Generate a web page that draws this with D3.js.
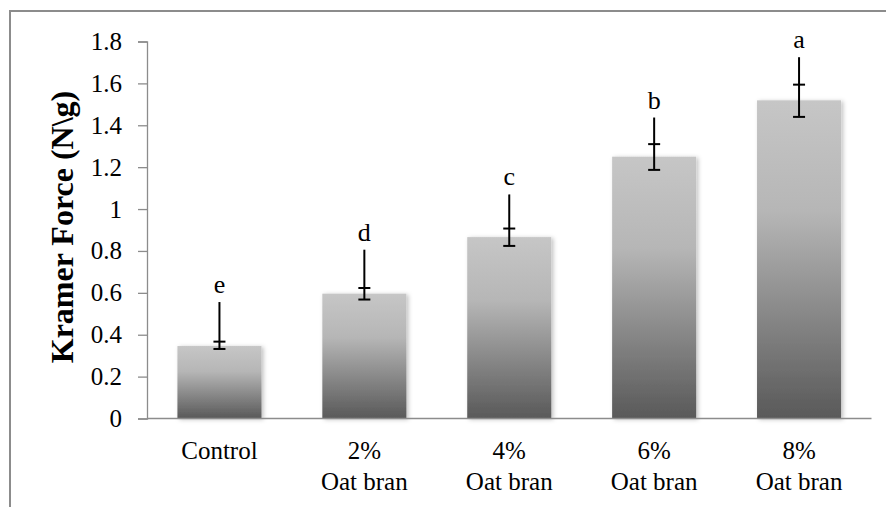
<!DOCTYPE html>
<html>
<head>
<meta charset="utf-8">
<script src="https://d3js.org/d3.v7.min.js"></script>
<style>
    body { margin: 0; background: #fff; }
</style>
</head>
<body>
<div id="chart"></div>
<script>
// values
var categories = [["Control"], ["2%", "Oat bran"], ["4%", "Oat bran"], ["6%", "Oat bran"], ["8%", "Oat bran"]];
var force = [0.346, 0.596, 0.866, 1.25, 1.519];
var errTop = [0.556, 0.806, 1.07, 1.437, 1.725];
var errMid = [0.367, 0.623, 0.907, 1.31, 1.594];
var errLow = [0.332, 0.568, 0.824, 1.187, 1.44];
var letters = ["e", "d", "c", "b", "a"];
var yTicks = [0, 0.2, 0.4, 0.6, 0.8, 1, 1.2, 1.4, 1.6, 1.8];

var width = 886,
    height = 507;
var serif = "'Liberation Serif', 'Noto Serif', 'DejaVu Serif', serif";

var svg = d3.select("#chart")
    .append("svg")
    .attr("xmlns", "http://www.w3.org/2000/svg")
    .attr("width", width)
    .attr("height", height)
    .style("font-family", serif);

var defs = svg.append("defs");
var grad = defs.append("linearGradient")
    .attr("id", "barGrad")
    .attr("x1", 0).attr("y1", 0).attr("x2", 0).attr("y2", 1);
grad.append("stop").attr("offset", "0%").attr("stop-color", "#c6c6c6");
grad.append("stop").attr("offset", "35%").attr("stop-color", "#b6b6b6");
grad.append("stop").attr("offset", "100%").attr("stop-color", "#595959");

defs.append("filter")
    .attr("id", "shadow")
    .attr("x", "-10%").attr("y", "-10%").attr("width", "130%").attr("height", "130%")
    .append("feDropShadow")
    .attr("dx", 2).attr("dy", 1)
    .attr("stdDeviation", 2)
    .attr("flood-color", "#000")
    .attr("flood-opacity", 0.25);

// outer frame (left + top only visible)
svg.append("path")
    .attr("d", "M10," + height + "V11H" + width)
    .attr("fill", "none")
    .attr("stroke", "#8c8c8c")
    .attr("stroke-width", 2);

var x = d3.scaleBand()
    .domain(d3.range(categories.length))
    .range([147, 871.5])
    .paddingInner(0.42)
    .paddingOuter(0.21);

var y = d3.scaleLinear()
    .domain([0, 1.8])
    .range([418.5, 41.5]);

// y axis
var yAxis = svg.append("g")
    .attr("transform", "translate(147,0)")
    .call(d3.axisLeft(y).tickValues(yTicks).tickSize(9).tickPadding(16)
        .tickFormat(function (d) { return d3.format("")(d) }));
yAxis.attr("font-family", null).attr("font-size", null);
yAxis.select(".domain").attr("stroke", "#8c8c8c").attr("stroke-width", 1.3);
yAxis.selectAll(".tick line").attr("stroke", "#8c8c8c").attr("stroke-width", 1.3);
yAxis.selectAll(".tick text")
    .attr("fill", "#000")
    .style("font-family", serif)
    .style("font-size", "25px");

// bars
svg.selectAll(".bar")
    .data(force)
    .enter()
    .append("rect")
    .attr("class", "bar")
    .attr("x", function (d, i) { return x(i) })
    .attr("y", function (d) { return y(d) })
    .attr("width", x.bandwidth())
    .attr("height", function (d) { return y(0) - y(d) })
    .attr("fill", "url(#barGrad)")
    .attr("filter", "url(#shadow)");

// x axis line
svg.append("line")
    .attr("x1", 147).attr("x2", 871.5)
    .attr("y1", y(0)).attr("y2", y(0))
    .attr("stroke", "#8c8c8c")
    .attr("stroke-width", 1.5);

// error bars
var eb = svg.selectAll(".err")
    .data(force)
    .enter()
    .append("g")
    .attr("class", "err")
    .attr("transform", function (d, i) { return "translate(" + (x(i) + x.bandwidth() / 2) + ",0)" })
    .attr("stroke", "#000")
    .attr("stroke-width", 2);

eb.append("line")
    .attr("y1", function (d, i) { return y(errTop[i]) })
    .attr("y2", function (d, i) { return y(errLow[i]) });
eb.append("line")
    .attr("x1", -6).attr("x2", 6)
    .attr("y1", function (d, i) { return y(errMid[i]) })
    .attr("y2", function (d, i) { return y(errMid[i]) });
eb.append("line")
    .attr("x1", -6).attr("x2", 6)
    .attr("y1", function (d, i) { return y(errLow[i]) })
    .attr("y2", function (d, i) { return y(errLow[i]) });

// significance letters
svg.selectAll(".letter")
    .data(letters)
    .enter()
    .append("text")
    .attr("class", "letter")
    .attr("x", function (d, i) { return x(i) + x.bandwidth() / 2 })
    .attr("y", function (d, i) { return y(errTop[i]) - 9 })
    .attr("text-anchor", "middle")
    .style("font-size", "26px")
    .text(function (d) { return d });

// category labels
var cat = svg.selectAll(".cat")
    .data(categories)
    .enter()
    .append("text")
    .attr("class", "cat")
    .attr("text-anchor", "middle")
    .style("font-size", "25px");
cat.selectAll("tspan")
    .data(function (d, i) { return d.map(function (t) { return { t: t, i: i } }) })
    .enter()
    .append("tspan")
    .attr("x", function (d) { return x(d.i) + x.bandwidth() / 2 })
    .attr("y", function (d, j) { return 459 + j * 31 })
    .text(function (d) { return d.t });

// y title
svg.append("text")
    .attr("transform", "translate(73,227) rotate(-90)")
    .attr("text-anchor", "middle")
    .style("font-size", "32px")
    .style("font-weight", "bold")
    .text("Kramer Force (N\\g)");
</script>
</body>
</html>
